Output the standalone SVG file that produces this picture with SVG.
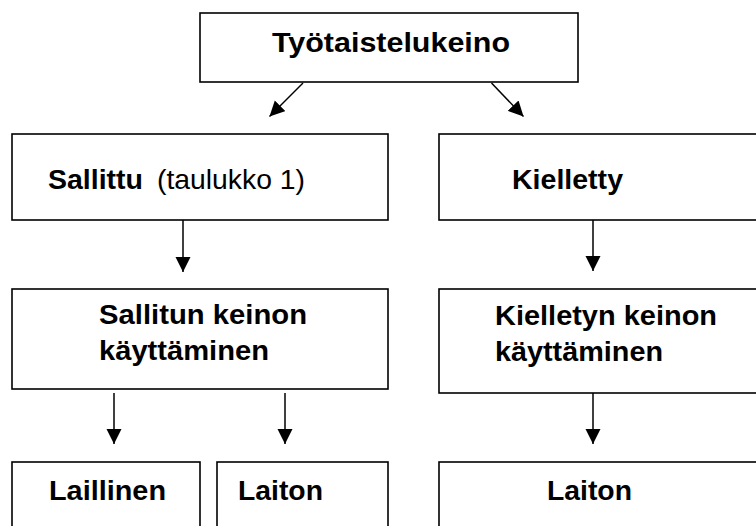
<svg xmlns="http://www.w3.org/2000/svg" width="756" height="526" viewBox="0 0 756 526">
<style>
.box{fill:#fff;stroke:#000;stroke-width:1.6}
.t{font-family:"Liberation Sans",Arial,sans-serif;font-size:27.5px;fill:#000}
.b{font-weight:bold}
.c{stroke:#000;stroke-width:1.5;fill:none}
</style>
<defs>
<marker id="ah" markerUnits="userSpaceOnUse" markerWidth="16" markerHeight="16" refX="15" refY="7.5" orient="auto" viewBox="0 0 16 16">
<path d="M0,0 L15,7.5 L0,15 z" fill="#000"/>
</marker>
</defs>
<rect width="756" height="526" fill="#fff"/>
<g id="connectors">
<line class="c" x1="303" y1="83" x2="269.5" y2="116.5" marker-end="url(#ah)"/>
<line class="c" x1="491.5" y1="83" x2="523.5" y2="116.5" marker-end="url(#ah)"/>
<line class="c" x1="183" y1="220" x2="183" y2="272" marker-end="url(#ah)"/>
<line class="c" x1="593" y1="220" x2="593" y2="271" marker-end="url(#ah)"/>
<line class="c" x1="114" y1="393" x2="114" y2="444" marker-end="url(#ah)"/>
<line class="c" x1="285" y1="393" x2="285" y2="444" marker-end="url(#ah)"/>
<line class="c" x1="593" y1="393" x2="593" y2="444" marker-end="url(#ah)"/>
</g>
<g id="n-tyotaistelukeino">
<rect class="box" x="200" y="13" width="378" height="69"/>
<text class="t b" x="272" y="52" font-size="29" textLength="238" lengthAdjust="spacingAndGlyphs">Työtaistelukeino</text>
</g>
<g id="n-sallittu">
<rect class="box" x="12" y="134" width="376" height="86"/>
<text class="t" y="189"><tspan class="b" x="48" textLength="95" lengthAdjust="spacingAndGlyphs">Sallittu</tspan><tspan x="157" textLength="148" lengthAdjust="spacingAndGlyphs">(taulukko 1)</tspan></text>
</g>
<g id="n-kielletty">
<rect class="box" x="439" y="134" width="330" height="86"/>
<text class="t b" x="512" y="189" textLength="111" lengthAdjust="spacingAndGlyphs">Kielletty</text>
</g>
<g id="n-sallitun-kaytto">
<rect class="box" x="12" y="289" width="376" height="100"/>
<text class="t b" x="99" y="324" textLength="208" lengthAdjust="spacingAndGlyphs">Sallitun keinon</text>
<text class="t b" x="99" y="360" textLength="170" lengthAdjust="spacingAndGlyphs">käyttäminen</text>
</g>
<g id="n-kielletyn-kaytto">
<rect class="box" x="439" y="289" width="330" height="104"/>
<text class="t b" x="495" y="325" textLength="222" lengthAdjust="spacingAndGlyphs">Kielletyn keinon</text>
<text class="t b" x="495" y="361" textLength="168" lengthAdjust="spacingAndGlyphs">käyttäminen</text>
</g>
<g id="n-laillinen">
<rect class="box" x="12" y="462" width="188" height="80"/>
<text class="t b" x="49" y="500" textLength="117" lengthAdjust="spacingAndGlyphs">Laillinen</text>
</g>
<g id="n-laiton1">
<rect class="box" x="217" y="462" width="171" height="80"/>
<text class="t b" x="238" y="500" textLength="85" lengthAdjust="spacingAndGlyphs">Laiton</text>
</g>
<g id="n-laiton2">
<rect class="box" x="439" y="462" width="330" height="80"/>
<text class="t b" x="547" y="500" textLength="85" lengthAdjust="spacingAndGlyphs">Laiton</text>
</g>
</svg>
